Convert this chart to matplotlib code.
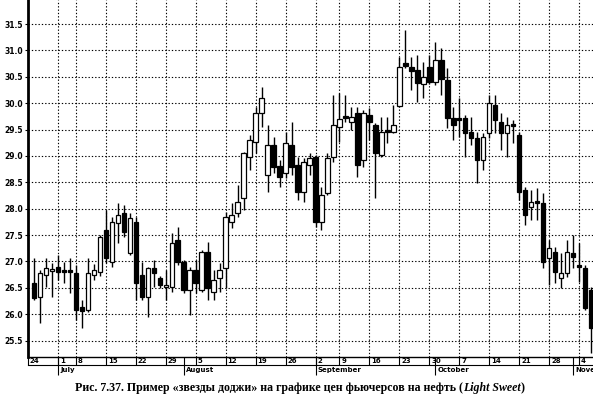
import matplotlib
matplotlib.use('Agg')
import numpy as np
import pandas as pd
from matplotlib import pyplot as plt
from matplotlib import transforms

# trading days, Light Sweet crude futures, 1996
days = pd.bdate_range('1996-06-24', '1996-11-06')
days = days.drop(pd.to_datetime(['1996-07-04', '1996-07-05', '1996-09-02']))

# candles start at the 2nd trading day (Jun 25)
opens = [26.60, 26.33, 26.75, 26.82, 26.90, 26.84, 26.82, 26.79, 26.14, 26.08,
         26.75, 26.80, 27.60, 26.99, 27.73, 27.92, 27.16, 27.75, 26.75, 26.33,
         26.88, 26.69, 26.52, 26.52, 27.41, 26.99, 26.46, 26.84, 26.46, 27.18,
         26.43, 26.69, 26.88, 27.75, 27.92, 28.21, 28.98, 29.27, 29.81, 28.64,
         29.21, 28.81, 28.68, 29.21, 28.83, 28.32, 28.83, 28.98, 27.75, 28.30,
         28.98, 29.55, 29.76, 29.64, 29.82, 28.92, 29.78, 29.59, 29.02, 29.47,
         29.46, 29.95, 30.76, 30.69, 30.63, 30.36, 30.69, 30.40, 30.82, 30.44,
         29.72, 29.72, 29.72, 29.46, 29.34, 28.92, 29.44, 29.97, 29.64, 29.44,
         29.61, 29.40, 28.36, 28.04, 28.13, 28.11, 27.07, 27.18, 26.69, 26.79,
         27.16, 26.92, 26.88, 26.46]
highs = [27.07, 26.84, 27.07, 26.97, 27.13, 26.99, 27.07, 26.94, 26.27, 27.07,
         26.96, 27.50, 27.98, 27.85, 28.11, 28.07, 27.92, 27.85, 26.99, 26.90,
         27.03, 26.73, 26.84, 27.54, 27.66, 27.03, 26.90, 27.03, 27.22, 27.37,
         26.84, 26.97, 27.94, 28.11, 28.45, 29.08, 29.40, 29.93, 30.31, 29.59,
         29.36, 28.92, 29.46, 29.64, 28.98, 28.96, 29.06, 29.02, 28.41, 29.06,
         30.16, 30.19, 30.16, 29.93, 29.93, 29.87, 29.91, 29.63, 29.74, 29.74,
         29.97, 30.88, 31.39, 30.88, 30.91, 30.78, 30.91, 31.16, 31.05, 30.67,
         29.93, 30.10, 29.78, 29.74, 29.46, 29.44, 30.16, 30.16, 29.82, 29.74,
         29.68, 29.46, 28.41, 28.36, 28.40, 28.30, 27.41, 27.28, 27.16, 27.41,
         27.50, 27.35, 26.94, 26.52]
lows = [26.27, 25.84, 26.52, 26.33, 26.65, 26.60, 26.41, 25.89, 25.74, 26.05,
        26.65, 26.73, 26.97, 26.90, 27.35, 27.47, 27.13, 26.27, 26.27, 25.95,
        26.52, 26.50, 26.27, 26.43, 26.94, 26.41, 25.99, 26.41, 26.43, 26.27,
        26.27, 26.43, 26.50, 27.64, 27.85, 27.98, 28.74, 29.06, 29.55, 28.32,
        28.68, 28.41, 28.58, 28.64, 28.17, 28.13, 28.64, 27.66, 27.60, 28.26,
        28.89, 29.27, 29.64, 29.49, 28.60, 28.79, 29.31, 28.21, 28.98, 29.25,
        29.44, 29.93, 30.67, 30.25, 30.02, 30.10, 30.36, 30.35, 30.16, 29.53,
        29.31, 29.36, 28.98, 29.21, 28.49, 28.74, 29.34, 29.44, 29.12, 28.98,
        29.25, 28.17, 27.70, 27.79, 27.79, 26.88, 26.56, 26.60, 26.50, 26.71,
        26.88, 26.61, 26.08, 25.27]
closes = [26.31, 26.79, 26.88, 26.84, 26.80, 26.80, 26.81, 26.08, 26.07, 26.79,
          26.84, 27.47, 27.07, 27.75, 27.88, 27.56, 27.83, 26.60, 26.33, 26.88,
          26.79, 26.56, 26.54, 27.35, 26.99, 26.46, 26.84, 26.60, 27.18, 26.50,
          26.65, 26.84, 27.85, 27.88, 28.13, 29.06, 29.30, 29.81, 30.10, 29.21,
          28.79, 28.60, 29.25, 28.79, 28.32, 28.89, 28.96, 27.75, 28.26, 28.96,
          29.59, 29.70, 29.72, 29.74, 28.83, 29.82, 29.64, 29.06, 29.46, 29.46,
          29.59, 30.69, 30.71, 30.61, 30.38, 30.50, 30.40, 30.82, 30.46, 29.72,
          29.59, 29.68, 29.44, 29.34, 28.92, 29.36, 30.00, 29.68, 29.44, 29.59,
          29.57, 28.32, 27.88, 28.13, 28.11, 26.99, 27.26, 26.80, 26.79, 27.18,
          27.09, 26.90, 26.12, 25.74]

y_ticks = [25.5, 26.0, 26.5, 27.0, 27.5, 28.0, 28.5, 29.0, 29.5, 30.0, 30.5, 31.0, 31.5]
month_names = ['July', 'August', 'September', 'October', 'November']

o = np.array(opens)
h = np.array(highs)
l = np.array(lows)
c = np.array(closes)
x = np.arange(1, len(o) + 1)

# weekly ticks: first trading day of each week, labelled with the Monday date
wk = pd.Series(np.arange(len(days)), index=days)
week_pos = wk.groupby(days.to_period('W')).first().values
week_lab = [str((days[i] - pd.Timedelta(days=days[i].weekday())).day) for i in week_pos]
# month ticks: first trading day of each month
month_pos = wk.groupby(days.to_period('M')).first().values[1:]

fig = plt.figure(figsize=(5.93, 4.01), dpi=100)
ax = fig.add_axes([28/593, 44/401, 565/593, 357/401])

ax.vlines(x, l, h, color='black', lw=1.0, zorder=2)
body_lo = np.minimum(o, c)
body_h = np.maximum(np.abs(c - o), 0.03)
cols = ['black' if cc < oo else 'white' for oo, cc in zip(o, c)]
ax.bar(x, body_h, bottom=body_lo, width=0.75, color=cols, edgecolor='black', linewidth=0.9, zorder=3)

ax.set_xlim(0.17, 94.33)
ax.set_ylim(25.19, 31.955)

ax.set_yticks(y_ticks)
ax.set_yticklabels(['%.1f' % v for v in y_ticks])
ax.tick_params(axis='y', length=2.5, width=0.8, pad=1, labelsize=5.5)
for t in ax.get_yticklabels():
    t.set_fontweight('bold')

ax.set_xticks(week_pos)
ax.set_xticklabels(week_lab)
ax.set_xticks(month_pos, minor=True)
ax.set_xticklabels(month_names, minor=True)
ax.xaxis.remove_overlapping_locs = False
ax.tick_params(axis='x', which='major', direction='out', length=5.8, width=0.8, pad=-5.3, labelsize=5)
ax.tick_params(axis='x', which='minor', direction='out', length=13, width=0.8, pad=-5.8, labelsize=5)
shift = transforms.ScaledTranslation(2/100, 0, fig.dpi_scale_trans)
for t in ax.get_xticklabels() + ax.get_xticklabels(minor=True):
    t.set_ha('left')
    t.set_fontweight('bold')
    t.set_transform(t.get_transform() + shift)

ax.grid(True, which='major', color='black', lw=0.8, ls=(0, (1.2, 1.8)))
ax.set_axisbelow(True)

ax.spines['top'].set_visible(False)
ax.spines['right'].set_visible(False)
ax.spines['left'].set_linewidth(2)
ax.spines['bottom'].set_linewidth(1)
ax.plot([0, 1], [-8/357, -8/357], transform=ax.transAxes, color='black', lw=0.8, clip_on=False)

# caption, with the italic part after the main text
cap = fig.text(75/593, 1 - 388/401, 'Рис. 7.37. Пример «звезды доджи» на графике цен фьючерсов на нефть (',
               family='Liberation Serif', fontweight='bold', fontsize=8.6, va='center', ha='left')
t2 = plt.annotate('Light Sweet', xy=(1, 0), xycoords=cap, va='bottom', ha='left',
                  family='Liberation Serif', fontweight='bold', style='italic', fontsize=8.6,
                  annotation_clip=False)
plt.annotate(')', xy=(1, 0), xycoords=t2, va='bottom', ha='left',
             family='Liberation Serif', fontweight='bold', fontsize=8.6, annotation_clip=False)

fig.savefig('out.png', dpi=100)
plt.close()
